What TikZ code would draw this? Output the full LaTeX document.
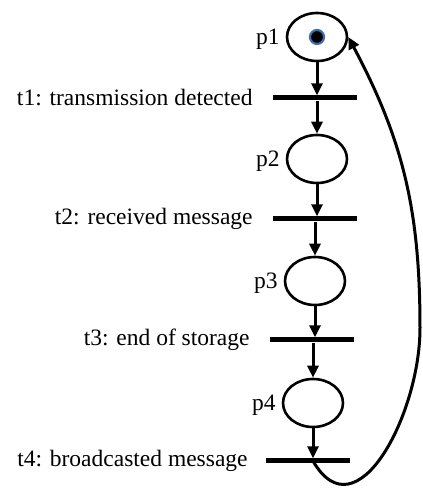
\documentclass[tikz,border=0pt]{standalone}
\usepackage{fontspec}
\setmainfont{Liberation Serif}
\usetikzlibrary{calc, shapes.geometric, arrows.meta}
\definecolor{tokenblue}{HTML}{3D6FA8}

\begin{document}
\begin{tikzpicture}[x=1pt, y=1pt,
		place/.style={draw, ellipse, line width=2.6pt, minimum width=60pt, minimum height=48pt, inner sep=0pt},
		trans/.style={fill, rectangle, minimum width=84pt, minimum height=5pt, inner sep=0pt},
		arc/.style={line width=3pt, -{Triangle[length=12pt, width=11pt]}},
		lbl/.style={font=\fontsize{23.5}{26}\selectfont, inner sep=0pt}]
		\useasboundingbox (0,0) rectangle (423,488);

		\foreach \i/\x/\y in {1/317/451, 2/317/329, 3/315/207, 4/313/85} {
				\node[place] (p\i) at (\x, \y) {};
				\node[lbl, anchor=east] (lp\i) at ($(p\i.west)+(-6,-2)$) {p\i};
			}
		\foreach \i/\x/\y in {1/315/390, 2/315/269, 3/312/148, 4/308/27} {
				\node[trans] (t\i) at (\x, \y) {};
			}

		\node[lbl, anchor=east] (lt1) at ($(t1.west)+(-20,0)$) {t1: transmission detected};
		\node[lbl, anchor=east] (lt2) at ($(t2.west)+(-20,0)$) {t2: received message};
		\node[lbl, anchor=east] (lt3) at ($(t3.west)+(-20,0)$) {t3: end of storage};
		\node[lbl, anchor=east] (lt4) at ($(t4.west)+(-18,0)$) {t4: broadcasted message};

		% token in p1
		\node[circle, fill=black, draw=tokenblue, line width=2.2pt, minimum size=14pt, inner sep=0pt] (tok) at (p1) {};

		\foreach \i/\j in {1/2, 2/3, 3/4} {
				\draw[arc] (p\i.south) -- (p\i.south |- t\i.north);
				\draw[arc] (p\j.north |- t\i.south) -- (p\j.north);
			}
		\draw[arc] (p4.south) -- (p4.south |- t4.north);

		% back to p1
		\coordinate (bend) at (420,160);
		\draw[arc] (p4.south |- t4.center) to[out=-60, in=-90, looseness=1.3] (bend)
			to[out=90, in=-62] (p1.east);
	\end{tikzpicture}
\end{document}
